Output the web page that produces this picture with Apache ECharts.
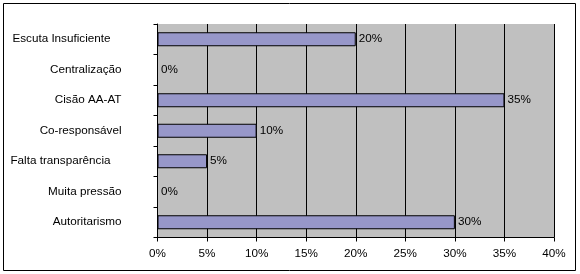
<!DOCTYPE html>
<html>
<head>
<meta charset="utf-8">
<script src="https://cdn.jsdelivr.net/npm/echarts@6/dist/echarts.min.js"></script>
<style>
html,body{margin:0;padding:0;background:#fff;}
#c{width:580px;height:274px;}
</style>
</head>
<body>
<div id="c"></div>
<script>
const categories = ["Escuta Insuficiente", "Centralização", "Cisão AA-AT", "Co-responsável", "Falta transparência", "Muita pressão", "Autoritarismo"];
const values = [20, 0, 35, 10, 5, 0, 30];
const longLabels = ["Escuta Insuficiente", "Falta transparência"];

const chart = echarts.init(document.getElementById('c'), null, {renderer: 'canvas'});
const font = '"Liberation Sans", Arial, sans-serif';
const fs = 11.7;
chart.setOption({
  animation: false,
  textStyle: {fontFamily: font},
  graphic: [{
    type: 'rect',
    shape: {x: 3.5, y: 3.5, width: 572, height: 267},
    style: {fill: 'none', stroke: '#000', lineWidth: 1},
    silent: true
  }],
  grid: {
    left: 157.5, top: 24, right: 26, bottom: 36.5,
    show: true, backgroundColor: '#c0c0c0', borderWidth: 0
  },
  xAxis: {
    type: 'value', min: 0, max: 40, interval: 5,
    axisLine: {show: true, lineStyle: {color: '#000', width: 1}},
    axisTick: {show: true, length: 4, lineStyle: {color: '#000'}},
    splitLine: {show: true, lineStyle: {color: '#000', width: 1}},
    axisLabel: {formatter: v => v + '%', color: '#000', fontSize: fs, margin: 10, fontFamily: font}
  },
  yAxis: {
    type: 'category', data: categories, inverse: true,
    axisLine: {show: true, lineStyle: {color: '#000', width: 1}},
    axisTick: {show: true, length: 4, lineStyle: {color: '#000'}},
    splitLine: {show: false},
    axisLabel: {
      color: '#000', fontSize: fs, margin: 36, fontFamily: font,
      formatter: v => longLabels.includes(v) ? '{l|' + v + '}' : '{n|' + v + '}',
      rich: {
        l: {padding: [0, 11, 0, 0], fontSize: fs, color: '#000', fontFamily: font},
        n: {fontSize: fs, color: '#000', fontFamily: font}
      }
    }
  },
  series: [{
    type: 'bar', data: values, barWidth: 14,
    itemStyle: {color: '#9797c9', borderColor: '#000', borderWidth: 1},
    label: {show: true, position: 'right', distance: 3, formatter: p => p.value + '%', color: '#000', fontSize: fs, fontFamily: font}
  }]
});
</script>
</body>
</html>
